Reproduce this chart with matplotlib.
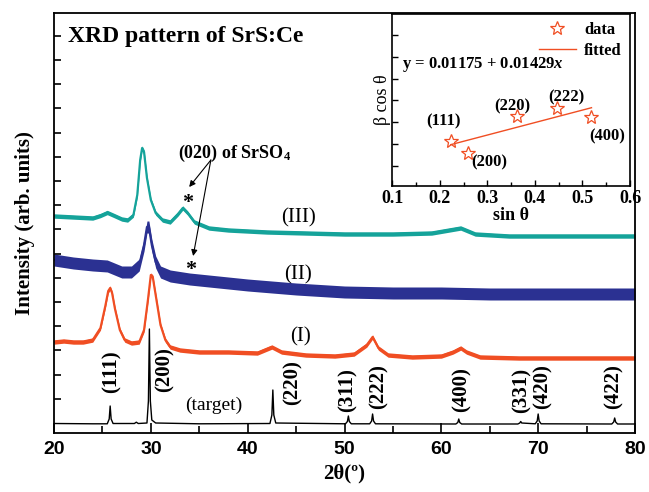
import matplotlib
matplotlib.use("Agg")
import matplotlib.pyplot as plt
import numpy as np

plt.rcParams["mathtext.fontset"] = "custom"
plt.rcParams["mathtext.rm"] = "Liberation Serif"
plt.rcParams["mathtext.bf"] = "Liberation Serif:bold"
plt.rcParams["mathtext.it"] = "Liberation Serif:italic"
plt.rcParams["mathtext.bfit"] = "Liberation Serif:bold:italic"

# ---------------- data ----------------
# 2theta positions (deg) and intensities (arb. units) for each pattern
x_target = [20, 24, 25.5, 25.7, 25.8, 25.9, 26.1, 28.3, 28.5, 28.7, 29.6, 29.75, 29.85,
            29.95, 30.1, 30.5, 35, 42.3, 42.5, 42.6, 42.7, 42.9, 50.1, 50.3, 50.4, 50.5,
            50.7, 52.6, 52.8, 52.9, 53.0, 53.2, 61.5, 61.7, 61.8, 61.9, 62.1, 67.9, 68.1,
            68.2, 68.3, 69.7, 69.9, 70.0, 70.1, 70.3, 77.6, 77.8, 77.9, 78.0, 78.2, 80]
y_target = [95, 92, 92, 140, 270, 140, 95, 95, 108, 95, 100, 320, 1040,
            320, 130, 100, 92, 95, 180, 430, 180, 100, 92, 115, 170, 115,
            92, 92, 120, 190, 120, 92, 90, 105, 140, 105, 90, 90, 100,
            115, 100, 92, 120, 190, 120, 92, 90, 110, 150, 110, 90, 90]

x_I = [20, 21, 22, 23, 24, 24.8, 25.3, 25.6, 25.8, 26.0, 26.3, 26.8, 27.3, 28, 28.8,
       29.3, 29.7, 30.0, 30.2, 30.5, 31.0, 31.5, 32, 33, 35, 38, 41, 42.5, 43.5, 46,
       49, 51, 52.3, 52.9, 53.5, 54.5, 57, 60, 61.2, 62.0, 62.6, 64, 68, 72, 76, 80]
y_I = [910, 920, 910, 910, 930, 1050, 1270, 1420, 1450, 1400, 1240, 1030, 930, 900, 910,
       1030, 1330, 1580, 1560, 1380, 1080, 930, 860, 830, 810, 810, 800, 860, 810, 780,
       770, 790, 880, 960, 850, 780, 760, 770, 810, 850, 810, 760, 750, 750, 750, 750]

x_II = [20, 22, 24, 25.5, 27, 28, 28.8, 29.3, 29.6, 29.8, 30.1, 30.5, 31.0, 32, 34,
        36, 40, 45, 50, 55, 60, 65, 70, 75, 80]
y_II = [1730, 1700, 1680, 1670, 1610, 1610, 1680, 1880, 2060, 2060, 1880, 1710, 1610, 1570, 1540,
        1520, 1480, 1440, 1410, 1400, 1400, 1390, 1390, 1390, 1390]

x_III = [20, 22, 24, 24.8, 25.5, 26.2, 27.0, 27.6, 28.2, 28.6, 28.9, 29.1, 29.3, 29.6, 30.0, 30.5,
         31.2, 32.0, 32.8, 33.3, 33.8, 34.5, 36, 38, 42, 46, 50, 55, 59, 62, 63.5, 67,
         72, 76, 80]
y_III = [2170, 2160, 2150, 2175, 2205, 2175, 2140, 2130, 2180, 2380, 2730, 2850, 2810, 2550, 2330, 2200,
         2130, 2110, 2190, 2250, 2200, 2110, 2050, 2030, 2010, 2000, 1990, 1990, 2000, 2050, 1990, 1970,
         1970, 1970, 1970]

noise_I = 22
noise_II = 60
noise_III = 22

peak_labels = ["(111)", "(200)", "(220)", "(311)", "(222)", "(400)", "(331)", "(420)", "(422)"]
peak_label_x = [25.9, 31.4, 44.6, 50.3, 53.5, 62.1, 68.3, 70.5, 77.8]
peak_label_y = [610, 630, 500, 430, 460, 430, 430, 460, 460]

# inset: Williamson-Hall data
sin_theta = [0.223, 0.259, 0.362, 0.446, 0.519]
beta_cos = [0.01538, 0.01393, 0.01826, 0.01911, 0.01808]
inset_labels = ["(111)", "(200)", "(220)", "(222)", "(400)"]
inset_label_x = [0.207, 0.304, 0.353, 0.467, 0.551]
inset_label_y = [0.01757, 0.01296, 0.0193, 0.02038, 0.01592]
fit_intercept = 0.01175
fit_slope = 0.01429

# ---------------- styling ----------------
SERIF = "Liberation Serif"
SANS = "Liberation Sans"
c_I = "#f04e23"
c_II = "#2b3192"
c_III = "#15a39a"

fig = plt.figure(figsize=(6.49, 4.92), dpi=100)
ax = fig.add_axes([54 / 649, 59 / 492, 581 / 649, 420 / 492])

ax.plot(x_target, y_target, color="black", lw=1.0)
for xs, ys, w, c in [(x_I, y_I, noise_I, c_I), (x_II, y_II, noise_II, c_II), (x_III, y_III, noise_III, c_III)]:
    xs = np.array(xs); ys = np.array(ys)
    ax.fill_between(xs, ys - w, ys + w, color=c, lw=0)
    ax.plot(xs, ys, color=c, lw=1.6)

ax.set_xlim(20, 80)
ax.set_ylim(0, 4200)
ax.set_xticks([20, 30, 40, 50, 60, 70, 80])
ax.set_xticks([25, 35, 45, 55, 65, 75], minor=True)
ax.set_yticks(np.arange(343, 4200, 242))
ax.set_yticklabels([])
ax.tick_params(axis="x", which="major", direction="in", length=7, width=1.2, pad=6)
ax.tick_params(axis="x", which="minor", direction="in", length=5, width=1.2)
ax.tick_params(axis="y", which="major", direction="in", length=5, width=1.2)
for lab in ax.get_xticklabels():
    lab.set_fontfamily(SANS)
    lab.set_fontweight("bold")
    lab.set_fontsize(14)
for s in ax.spines.values():
    s.set_linewidth(1.3)

ax.set_xlabel("2θ(º)", fontfamily=SERIF, fontweight="bold", fontsize=15, labelpad=4)
ax.set_ylabel("Intensity (arb. units)", fontfamily=SERIF, fontweight="bold", fontsize=15, labelpad=10)

ax.text(21.4, 3970, "XRD pattern of SrS:Ce", fontfamily=SERIF, fontweight="bold",
        fontsize=17, va="center", ha="left")

for lab, px, py in zip(peak_labels, peak_label_x, peak_label_y):
    ax.text(px, py, lab, rotation=90, fontfamily=SERIF, fontweight="bold", fontsize=15,
            ha="center", va="center")

ax.text(36.5, 280, "(target)", fontfamily=SERIF, fontsize=14, ha="center", va="center")
ax.text(45.5, 960, "(I)", fontfamily=SERIF, fontsize=15, ha="center", va="center")
ax.text(45.2, 1580, "(II)", fontfamily=SERIF, fontsize=15, ha="center", va="center")
ax.text(45.3, 2150, "(III)", fontfamily=SERIF, fontsize=15, ha="center", va="center")

ax.text(38.6, 2800, "(020) of SrSO$_\\mathbf{4}$", fontfamily=SERIF, fontweight="bold",
        fontsize=13, ha="center", va="center")
ax.text(33.8, 2300, "*", fontfamily=SERIF, fontweight="bold", fontsize=16, ha="center", va="center")
ax.text(34.1, 1630, "*", fontfamily=SERIF, fontweight="bold", fontsize=16, ha="center", va="center")
for end in [(33.96, 2460), (34.37, 1770)]:
    ax.annotate("", xy=end, xytext=(36.2, 2730),
                arrowprops=dict(arrowstyle="-|>", color="black", lw=0.8, mutation_scale=9,
                                shrinkA=0, shrinkB=0))

# ---------------- inset ----------------
ai = fig.add_axes([392.3 / 649, 306 / 492, 237.7 / 649, 172 / 492])
ai.set_facecolor("white")
ai.plot(sin_theta, beta_cos, linestyle="none", marker="*", markersize=10,
        markerfacecolor="none", markeredgecolor=c_I, markeredgewidth=0.9, label="data")
xf = np.array([min(sin_theta), max(sin_theta)])
ai.plot(xf, fit_intercept + fit_slope * xf, color=c_I, lw=1.0, label="fitted")
ai.set_xlim(0.1, 0.6)
ai.set_ylim(0.0102, 0.0299)
ai.set_xticks([0.1, 0.2, 0.3, 0.4, 0.5, 0.6])
ai.set_xticks([0.15, 0.25, 0.35, 0.45, 0.55], minor=True)
ai.set_yticks([0.0125, 0.015, 0.0175, 0.02, 0.0225, 0.025, 0.0275])
ai.set_yticklabels([])
ai.tick_params(axis="both", which="major", direction="in", length=4, width=1.0, pad=3)
ai.tick_params(axis="x", which="minor", direction="in", length=3, width=1.0)
for lab in ai.get_xticklabels():
    lab.set_fontfamily(SERIF)
    lab.set_fontweight("bold")
    lab.set_fontsize(13)
for s in ai.spines.values():
    s.set_linewidth(1.2)
ai.set_xlabel("sin θ", fontfamily=SERIF, fontweight="bold", fontsize=13, labelpad=0)
ai.set_ylabel("β cos θ", fontfamily=SERIF, fontsize=13, labelpad=-2)
for lab, px, py in zip(inset_labels, inset_label_x, inset_label_y):
    ai.text(px, py, lab, fontfamily=SERIF, fontweight="bold", fontsize=12, ha="center", va="center")
ai.text(0.12, 0.0241, "y = 0.01175 + 0.01429$\\mathbfit{x}$", fontfamily=SERIF, fontweight="bold",
        fontsize=12, ha="left", va="center")
leg = ai.legend(loc="upper right", frameon=False, prop=dict(family=SERIF, weight="bold", size=12),
                handlelength=2.2, borderaxespad=0.1, labelspacing=0.3, handletextpad=0.5)

fig.savefig("out.png", dpi=100)
